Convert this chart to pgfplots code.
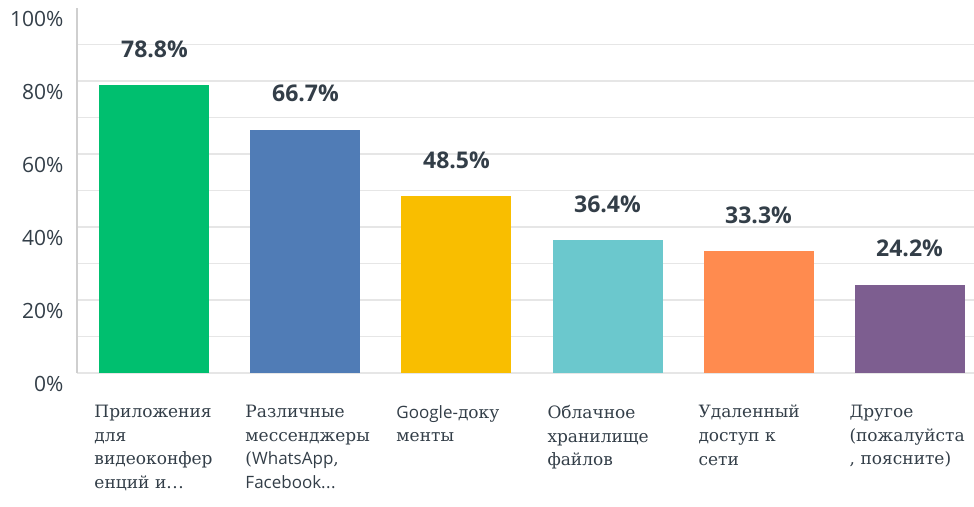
\documentclass[border=0pt]{standalone}
\usepackage{pgfplots}
\pgfplotsset{compat=1.18}
\usepackage{fontspec}
\setmainfont{DejaVu Serif}
\newfontfamily\lat{Open Sans}
\definecolor{cA}{HTML}{00BF6F}
\definecolor{cB}{HTML}{507CB6}
\definecolor{cC}{HTML}{F9BE00}
\definecolor{cD}{HTML}{6BC8CD}
\definecolor{cE}{HTML}{FF8B4F}
\definecolor{cF}{HTML}{7D5E90}
\definecolor{txt}{HTML}{333E48}
\definecolor{grd}{HTML}{E6E6E6}
\newcommand{\ellip}{.\kern0.5pt.\kern0.5pt.}
\begin{document}
\begin{tikzpicture}
\useasboundingbox (-77pt,-133pt) rectangle (897pt,373pt);
\begin{axis}[
  scale only axis,
  width=897pt, height=365pt,
  xmin=-0.513, xmax=5.427,
  ymin=0, ymax=100,
  axis lines*=left,
  x axis line style={draw=none},
  y axis line style={draw=black!19, line width=1.5pt},
  ytick={0,20,40,60,80},
  extra y ticks={100},
  extra y tick style={grid=none, major grid style={draw=none}},
  minor ytick={10,30,50,70,90},
  ymajorgrids, yminorgrids,
  major grid style={draw=grd, line width=1.5pt},
  minor grid style={draw=grd, line width=1.5pt},
  major tick length=0pt, minor tick length=0pt,
  yticklabel={\pgfmathprintnumber{\tick}\%},
  /pgf/number format/assume math mode=true,
  yticklabel style={font=\lat\fontsize{21}{24}\selectfont, text=txt, yshift=-10.5pt, xshift=-10pt},
  xtick={0,1,2,3,4,5},
  xticklabels={
    {Приложения\\для\\видеоконфер\\енций и\ellip},
    {Различные\\мессенджеры\\({\lat WhatsApp},\\{\lat Facebook\ellip}},
    {{\lat Google-}доку\\менты},
    {Облачное\\хранилище\\файлов},
    {Удаленный\\доступ к\\сети},
    {Другое\\(пожалуйста\\, поясните)}},
  xticklabel style={font=\fontsize{17}{23.6}\selectfont, text=txt, text width=130pt, align=left, anchor=north, inner sep=0pt, xshift=5pt, yshift=-32pt},
  clip=false,
]
\addplot[ybar, bar width=110pt, draw=none, fill=cA] coordinates {(0,78.8)};
\addplot[ybar, bar width=110pt, draw=none, fill=cB] coordinates {(1,66.7)};
\addplot[ybar, bar width=110pt, draw=none, fill=cC] coordinates {(2,48.5)};
\addplot[ybar, bar width=110pt, draw=none, fill=cD] coordinates {(3,36.4)};
\addplot[ybar, bar width=110pt, draw=none, fill=cE] coordinates {(4,33.3)};
\addplot[ybar, bar width=110pt, draw=none, fill=cF] coordinates {(5,24.2)};
\addplot[only marks, mark=none, point meta=y,
  nodes near coords={\pgfmathprintnumber[fixed,precision=1,fixed zerofill]{\pgfplotspointmeta}\%},
  every node near coord/.append style={anchor=center, yshift=36pt, font=\lat\bfseries\fontsize{23}{26}\selectfont, text=txt, /pgf/number format/assume math mode=true}]
  coordinates {(0,78.8) (1,66.7) (2,48.5) (3,36.4) (4,33.3) (5,24.2)};
\end{axis}
\end{tikzpicture}
\end{document}
